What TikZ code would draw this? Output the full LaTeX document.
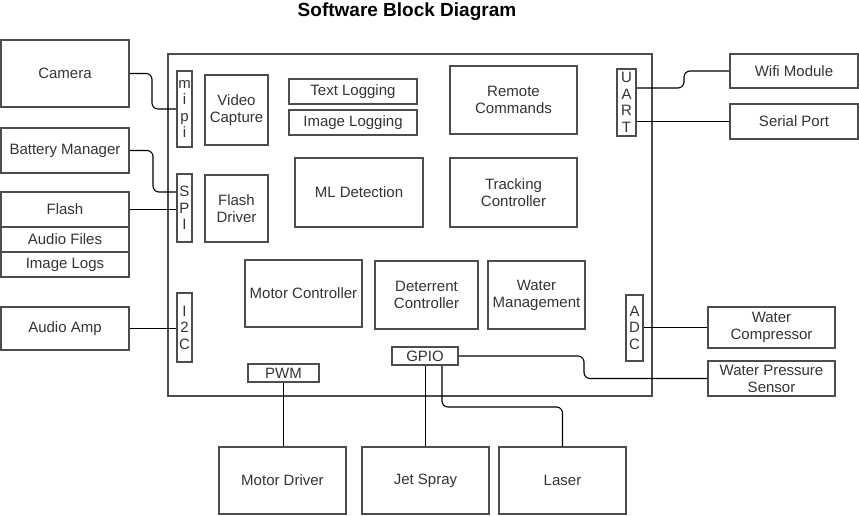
\documentclass[tikz,border=0pt]{standalone}
\usepackage{fontspec}
\setmainfont{Liberation Sans}
\definecolor{bord}{HTML}{4D4D4D}
\definecolor{txt}{HTML}{333333}
\tikzset{
  blk/.style={draw=bord, line width=2pt, inner sep=0pt, align=center, text=txt,
    font=\fontsize{15}{17}\selectfont},
  port/.style={blk, font=\fontsize{15}{16.5}\selectfont},
  wire/.style={draw=black, line width=1.1pt, rounded corners=6pt},
}
\begin{document}
\begin{tikzpicture}[x=1pt,y=-1pt]
\useasboundingbox (0,0) rectangle (859,516);
\node[font=\bfseries\fontsize{19}{21}\selectfont] (title) at (407,12) {Software Block Diagram};
% main box
\node[blk, minimum width=484pt, minimum height=342pt] (main) at (410,225) {};
% left boxes
\node[blk, minimum width=128pt, minimum height=67pt] (cam) at (65,73.5) {Camera};
\node[blk, minimum width=128pt, minimum height=45pt] (bat) at (65,150.5) {Battery Manager};
\node[blk, minimum width=128pt, minimum height=35pt] (flash) at (65,209.5) {Flash};
\node[blk, minimum width=128pt, minimum height=25pt] (audio) at (65,239.5) {Audio Files};
\node[blk, minimum width=128pt, minimum height=25pt] (imglogs) at (65,264.5) {Image Logs};
\node[blk, minimum width=128pt, minimum height=43pt] (amp) at (65,328.5) {Audio Amp};
% ports
\node[port, minimum width=15pt, minimum height=76pt] (mipi) at (184.5,109) {m\\i\\p\\i};
\node[port, minimum width=15pt, minimum height=68pt] (spi) at (184.5,208) {S\\P\\I};
\node[port, minimum width=15pt, minimum height=69pt] (i2c) at (184.5,327.5) {I\\2\\C};
\node[port, minimum width=19pt, minimum height=67pt] (uart) at (626.5,102.5) {U\\A\\R\\T};
\node[port, minimum width=17pt, minimum height=66pt] (adc) at (634.5,327.5) {A\\D\\C};
\node[port, minimum width=66pt, minimum height=18pt] (gpio) at (425,356) {GPIO};
\node[port, minimum width=71pt, minimum height=18pt] (pwm) at (283.5,373) {PWM};
% inner boxes
\node[blk, minimum width=63pt, minimum height=70pt] (video) at (236.5,110) {Video\\Capture};
\node[blk, minimum width=63pt, minimum height=67pt] (fdrv) at (236.5,208.5) {Flash\\Driver};
\node[blk, minimum width=128pt, minimum height=25pt] (tlog) at (353,91.5) {Text Logging};
\node[blk, minimum width=128pt, minimum height=25pt] (ilog) at (353,122.5) {Image Logging};
\node[blk, minimum width=127pt, minimum height=68pt] (remote) at (513.5,100) {Remote\\Commands};
\node[blk, minimum width=128pt, minimum height=69pt] (ml) at (359,192.5) {ML Detection};
\node[blk, minimum width=127pt, minimum height=69pt] (track) at (513.5,192.5) {Tracking\\Controller};
\node[blk, minimum width=117pt, minimum height=67pt] (motorc) at (303.5,293.5) {Motor Controller};
\node[blk, minimum width=103pt, minimum height=68pt] (deter) at (426.5,295) {Deterrent\\Controller};
\node[blk, minimum width=97pt, minimum height=68pt] (waterm) at (536.5,295) {Water\\Management};
% right boxes
\node[blk, minimum width=128pt, minimum height=34pt] (wifi) at (794,71) {Wifi Module};
\node[blk, minimum width=128pt, minimum height=35pt] (serial) at (794,121.5) {Serial Port};
\node[blk, minimum width=127pt, minimum height=41pt] (comp) at (771.5,327.5) {Water\\Compressor};
\node[blk, minimum width=127pt, minimum height=35pt] (sensor) at (771.5,378.5) {Water Pressure\\Sensor};
% bottom boxes
\node[blk, minimum width=127pt, minimum height=67pt] (mdrv) at (282.5,480.5) {Motor Driver};
\node[blk, minimum width=127pt, minimum height=67pt] (jet) at (425.5,480.5) {Jet Spray};
\node[blk, minimum width=127pt, minimum height=67pt] (laser) at (562.5,480.5) {Laser};
% connectors
\draw[wire] (cam.east) -- ++(22,0) |- (mipi.west);
\draw[wire] (bat.east) -- ++(23,0) |- ([yshift=16pt]spi.west);
\draw[wire] (flash.east) -- (flash.east -| spi.west);
\draw[wire] (amp.east) -- (amp.east -| i2c.west);
\draw[wire] ([yshift=14.5pt]uart.east) -- ++(47,0) |- (wifi.west);
\draw[wire] (serial.west -| uart.east) -- (serial.west);
\draw[wire] (adc.east) -- (adc.east -| comp.west);
\draw[wire] (gpio.east) -- ++(125,0) |- (sensor.west);
\draw[wire] (pwm.south) -- (pwm.south |- mdrv.north);
\draw[wire] ([xshift=0.5pt]gpio.south) -- ([xshift=0.5pt]gpio.south |- jet.north);
\draw[wire] ([xshift=17pt]gpio.south) -- ++(0,41) -| (laser.north);
\end{tikzpicture}
\end{document}
